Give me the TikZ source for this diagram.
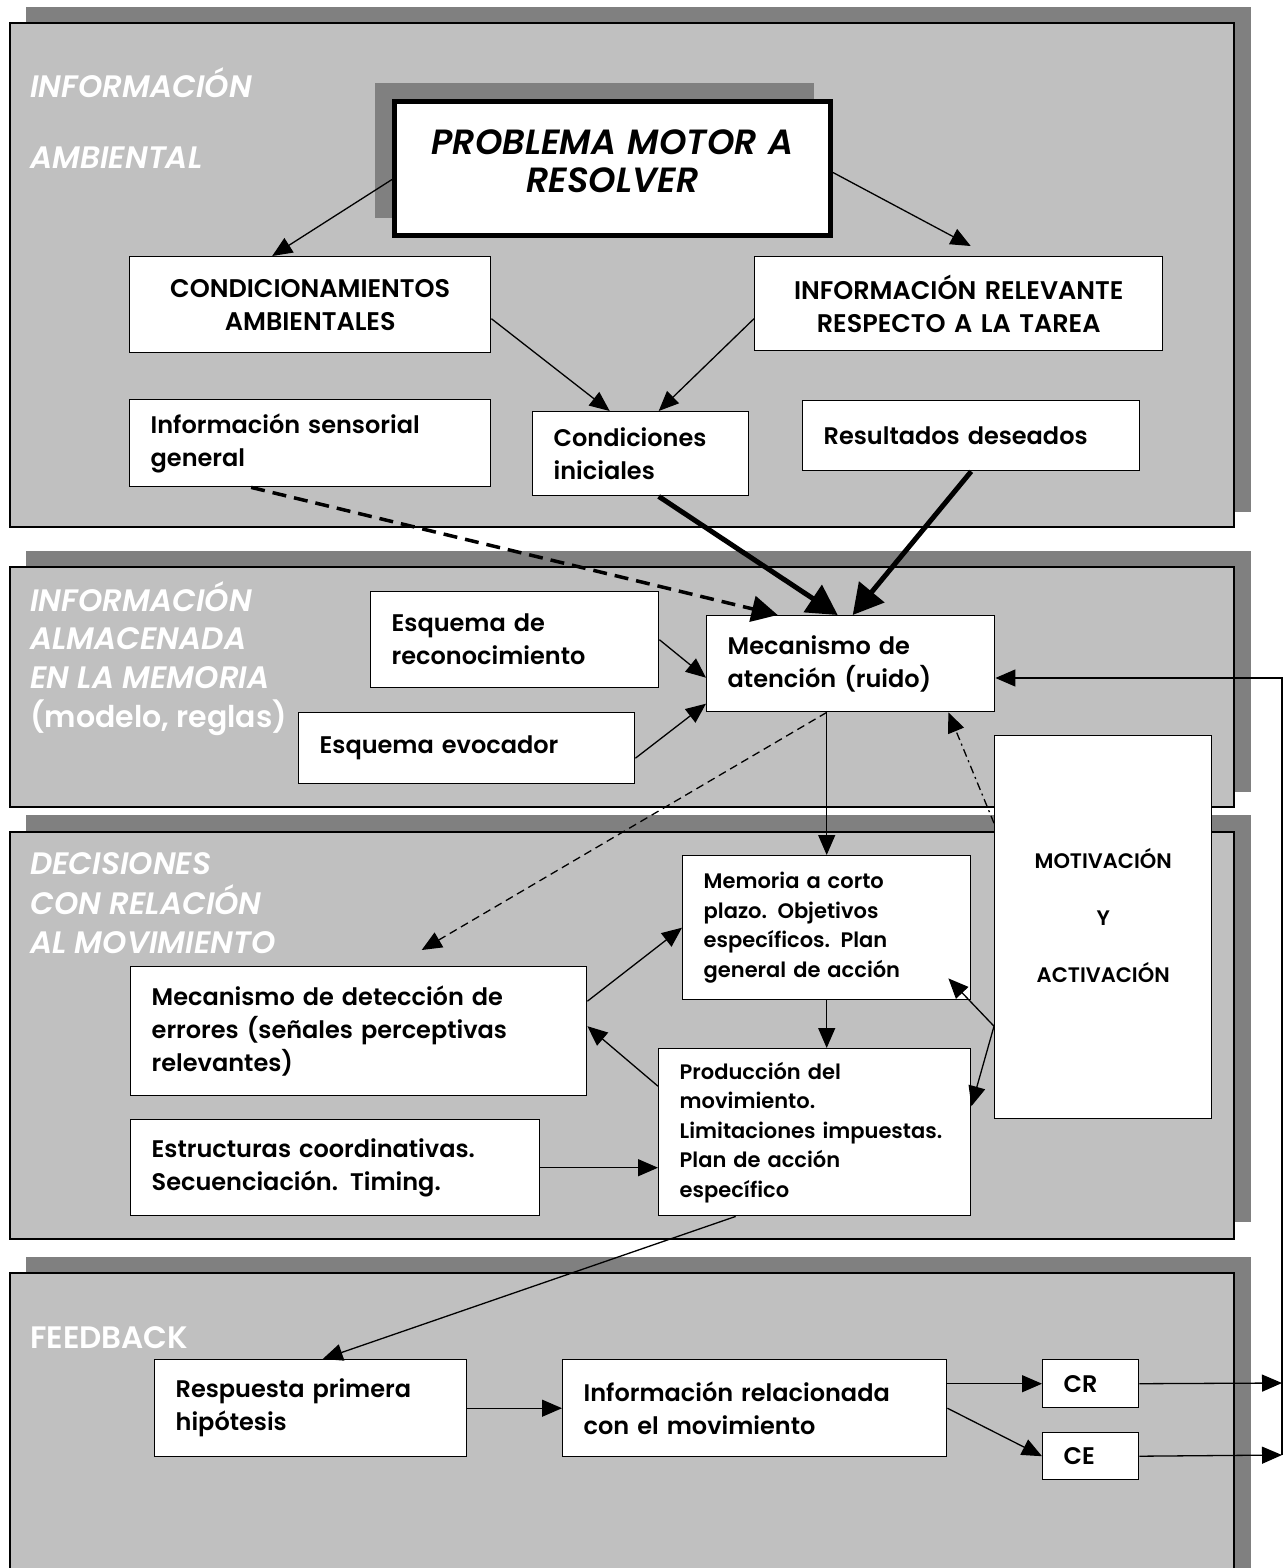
\documentclass[tikz,border=0pt]{standalone}
\usepackage{fontspec}
\setmainfont{Poppins}[BoldFont={Poppins SemiBold}, BoldItalicFont={Poppins SemiBold Italic}]
\usetikzlibrary{arrows.meta}
\definecolor{panelgray}{HTML}{C0C0C0}
\definecolor{dropgray}{HTML}{808080}

\begin{document}
\begin{tikzpicture}[x=1pt,y=-1pt,
    panel/.style={draw=black, line width=1.8pt, fill=panelgray},
    drop/.style={fill=dropgray},
    box/.style={draw=black, line width=1.4pt, fill=white, anchor=north west, align=left,
      inner xsep=21pt, inner ysep=0pt, font=\fontsize{24}{33}\selectfont\bfseries},
    smallbox/.style={box, font=\fontsize{21}{29.5}\selectfont\bfseries},
    capbox/.style={box, align=center, inner xsep=6pt, font=\fontsize{25.5}{33}\selectfont\bfseries},
    lbl/.style={white, anchor=base west, inner sep=0pt, font=\fontsize{31}{36}\selectfont\bfseries\itshape},
    arr/.style={line width=1.3pt, -{Triangle[length=20pt,width=17pt]}},
    bigarr/.style={line width=5pt, -{Triangle[length=30pt,width=32pt]}},
  ]
    \useasboundingbox (0,0) rectangle (1287,1568);
    \clip (0,0) rectangle (1287,1568);

    % the four panels
    \fill[drop] (26,7) rectangle (1251,512);
    \draw[panel] (10,23) rectangle (1234,527);
    \fill[drop] (26,551) rectangle (1251,792);
    \draw[panel] (10,567) rectangle (1234,807);
    \fill[drop] (26,815) rectangle (1251,1222);
    \draw[panel] (10,832) rectangle (1234,1239);
    \fill[drop] (26,1257) rectangle (1251,1600);
    \draw[panel] (10,1273) rectangle (1234,1600);

    \node[lbl] (lblA1) at (30,98) {INFORMACIÓN};
    \node[lbl] (lblA2) at (30,168) {AMBIENTAL};
    \node[lbl] (lblB1) at (30,611) {INFORMACIÓN};
    \node[lbl] (lblB2) at (30,649) {ALMACENADA};
    \node[lbl] (lblB3) at (30,688) {EN LA MEMORIA};
    \node[lbl, font=\fontsize{30}{36}\selectfont\bfseries] (lblB4) at (30,727) {(modelo, reglas)};
    \node[lbl] (lblC1) at (30,874) {DECISIONES};
    \node[lbl] (lblC2) at (30,914) {CON RELACIÓN};
    \node[lbl] (lblC3) at (30,953) {AL MOVIMIENTO};
    \node[lbl, font=\fontsize{31}{36}\selectfont\bfseries] (lblD1) at (30,1348) {FEEDBACK};

    % problem box
    \fill[drop] (375,83) rectangle (814,218);
    \node[box, line width=5pt, align=center, inner xsep=10pt, text width=416pt, minimum height=134,
      font=\fontsize{35}{38}\selectfont\bfseries\itshape] (prob) at (392,99)
      {PROBLEMA MOTOR A\\RESOLVER\\[-24pt]\mbox{}};

    % environment
    \node[capbox, text width=349pt, minimum height=96] (cond) at (129,256) {CONDICIONAMIENTOS\\AMBIENTALES};
    \node[capbox, text width=396pt, minimum height=94] (relev) at (754,256) {INFORMACIÓN RELEVANTE\\RESPECTO A LA TAREA};
    \node[box, text width=319pt, minimum height=87] (infosen) at (129,399) {Información sensorial\\general};
    \node[box, text width=174pt, minimum height=84] (condi) at (532,411) {Condiciones\\iniciales};
    \node[box, text width=295pt, minimum height=70] (result) at (802,400) {Resultados deseados};

    % memory
    \node[box, text width=246pt, minimum height=96] (reco) at (370,591) {Esquema de\\reconocimiento};
    \node[box, text width=294pt, minimum height=71] (evoc) at (298,712) {Esquema evocador};
    \node[box, text width=246pt, minimum height=96] (aten) at (706,615) {Mecanismo de\\atención (ruido)};

    % decisions
    \node[box, text width=414pt, minimum height=129] (detec) at (130,966)
      {Mecanismo de detección de\\errores (señales perceptivas\\relevantes)};
    \node[box, text width=367pt, minimum height=96] (estr) at (130,1119)
      {Estructuras coordinativas.\\Secuenciación. Timing.};
    \node[smallbox, text width=246pt, minimum height=144] (memo) at (682,855)
      {Memoria a corto\\plazo. Objetivos\\específicos. Plan\\general de acción};
    \node[smallbox, text width=270pt, minimum height=167] (prod) at (658,1048)
      {Producción del\\movimiento.\\Limitaciones impuestas.\\Plan de acción\\específico};
    \node[box, align=center, inner xsep=6pt, text width=205pt, minimum height=383,
      font=\fontsize{21}{29}\selectfont\bfseries] (motiv) at (994,735)
      {MOTIVACIÓN\\[28pt]Y\\[28pt]ACTIVACIÓN\\[-6pt]\mbox{}};

    % feedback
    \node[box, text width=270pt, minimum height=97] (resp) at (154,1359) {Respuesta primera\\hipótesis};
    \node[box, text width=342pt, minimum height=97] (inforel) at (562,1359) {Información relacionada\\con el movimiento};
    \node[box, text width=54pt, minimum height=48] (cr) at (1042,1359) {CR};
    \node[box, text width=54pt, minimum height=47] (ce) at (1042,1432) {CE};

    \coordinate (fbR) at (1282,1383);
    \coordinate (fbE) at (1282,1455);
    \coordinate (fbTop) at (1282,678);

    % connectors
    \draw[arr] ([yshift=-11]prob.west) -- ([xshift=-38]cond.north);
    \draw[arr] ([yshift=-4]prob.east) -- ([xshift=12,yshift=10]relev.north);
    \draw[arr] ([yshift=-14]cond.east) -- ([xshift=-31]condi.north);
    \draw[arr] ([yshift=-15]relev.west) -- ([xshift=18]condi.north);
    \draw[bigarr] ([xshift=18]condi.south) -- ([xshift=-13]aten.north);
    \draw[bigarr] (result.south) -- ([xshift=2]aten.north);
    \draw[line width=3.5pt, dash pattern=on 14pt off 8pt, -{Triangle[length=26pt,width=26pt]}]
      ([xshift=-59]infosen.south) -- ([xshift=-73]aten.north);
    \draw[arr] (reco.east) -- ([yshift=-14]aten.west);
    \draw[arr] ([yshift=-10]evoc.east) -- ([yshift=-40]aten.west);
    \draw[arr] (memo.north |- aten.south) -- (memo.north);
    \draw[arr, dash pattern=on 8pt off 5pt] (memo.north |- aten.south) -- ([xshift=63,yshift=16]detec.north);
    \draw[arr, dash pattern=on 8pt off 4pt on 2pt off 4pt] ([yshift=104]motiv.west) -- ([xshift=-47]aten.south east);
    \draw[arr] (memo.south) -- (memo.south |- prod.north);
    \draw[arr] ([yshift=30]detec.east) -- (memo.west);
    \draw[arr] ([yshift=46]prod.west) -- ([yshift=5]detec.east);
    \draw[arr] ([yshift=-99]motiv.west) -- ([xshift=-23,yshift=22]memo.south east);
    \draw[arr] ([yshift=-99]motiv.west) -- ([yshift=26]prod.east);
    \draw[arr] (estr.east) -- (estr.east -| prod.west);
    \draw[arr] ([xshift=-79]prod.south) -- ([xshift=12]resp.north);
    \draw[arr] (resp.east) -- (inforel.west);
    \draw[arr] (cr.west -| inforel.east) -- (cr.west);
    \draw[arr] (inforel.east) -- (ce.west);
    \draw[arr] (cr.east) -- (fbR);
    \draw[arr] (ce.east) -- (fbE);
    \draw[arr] (fbE) -- (fbTop) -- (fbTop -| aten.east);
\end{tikzpicture}
\end{document}
